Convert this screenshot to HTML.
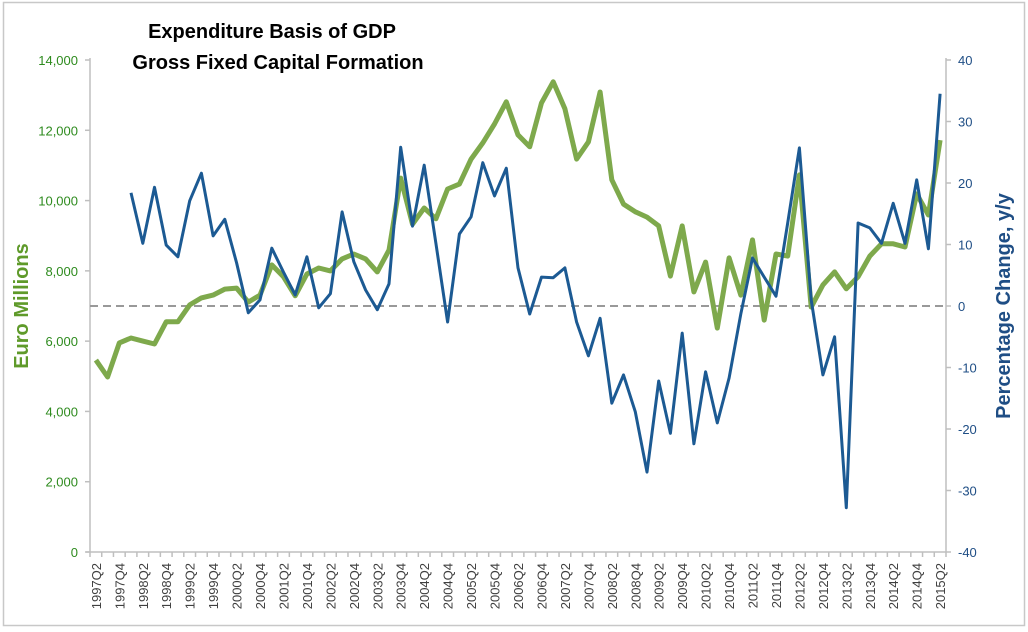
<!DOCTYPE html>
<html><head><meta charset="utf-8"><style>
body{margin:0;background:#fff;}
svg{display:block;font-family:"Liberation Sans",sans-serif;}
</style></head><body>
<svg id="chart" width="1028" height="632" xmlns="http://www.w3.org/2000/svg">
<rect x="3.5" y="2.5" width="1021" height="623" fill="#fff" stroke="#c8c8c8" stroke-width="1.5"/>
<text x="272" y="38" text-anchor="middle" font-size="20" font-weight="bold" fill="#000">Expenditure Basis of GDP</text>
<text x="278" y="69" text-anchor="middle" font-size="20" font-weight="bold" fill="#000">Gross Fixed Capital Formation</text>
<text transform="translate(28,306) rotate(-90)" text-anchor="middle" font-size="20" font-weight="bold" fill="#5f9a2a">Euro Millions</text>
<text transform="translate(1010,306) rotate(-90)" text-anchor="middle" font-size="20" font-weight="bold" fill="#1f4e85">Percentage Change, y/y</text>
<g id="axes"></g>
<g id="series"></g>
</svg>
<script>
const categories = [];
for (let y = 1997; y <= 2015; y++) for (let q = 1; q <= 4; q++) { if ((y === 1997 && q < 2) || (y === 2015 && q > 2)) continue; categories.push(y + 'Q' + q); }
const euroMillions = [5460,4980,5950,6090,6000,5920,6550,6550,7030,7230,7310,7480,7510,7110,7310,8170,7830,7290,7910,8080,8000,8340,8480,8340,7970,8590,10640,9330,9790,9480,10330,10470,11180,11640,12180,12810,11870,11530,12780,13380,12610,11180,11670,13090,10590,9900,9680,9530,9280,7850,9280,7400,8250,6370,8370,7310,8880,6600,8480,8420,10730,6970,7600,7970,7490,7830,8420,8770,8770,8680,10190,9590,11720];
const pctChange = [null,null,null,18.4,10.2,19.3,9.9,8.0,17.1,21.6,11.4,14.1,7.0,-1.1,1.0,9.4,5.5,1.8,8.0,-0.3,2.0,15.3,7.2,2.6,-0.6,3.6,25.8,13.0,22.9,10.2,-2.6,11.7,14.5,23.3,17.9,22.4,6.2,-1.3,4.7,4.6,6.2,-2.6,-8.1,-2.0,-15.8,-11.2,-17.2,-27.0,-12.2,-20.7,-4.4,-22.4,-10.7,-19.0,-11.7,-1.3,7.8,4.7,1.6,13.5,25.7,1.0,-11.2,-5.0,-32.8,13.5,12.7,10.2,16.7,10.2,20.5,9.3,34.5];
const leftTicks = [0,2000,4000,6000,8000,10000,12000,14000];
const rightTicks = [-40,-30,-20,-10,0,10,20,30,40];

const NS = 'http://www.w3.org/2000/svg';
const X0 = 90, X1 = 946, Y0 = 552, Y1 = 60;
const step = (X1 - X0) / categories.length;
const xPos = i => X0 + step * (i + 0.5);
const yLeft = v => Y0 - (v - 0) / 14000 * (Y0 - Y1);
const yRight = v => Y0 - (v + 40) / 80 * (Y0 - Y1);
function mk(tag, attrs, parent) { const e = document.createElementNS(NS, tag); for (const k in attrs) e.setAttribute(k, attrs[k]); parent.appendChild(e); return e; }
const axes = document.getElementById('axes');
const series = document.getElementById('series');

let el = mk('line', {x1: X0, y1: Y1 - 2, x2: X0, y2: Y0, stroke: '#bfbfbf', 'stroke-width': 1.5}, axes);


el = mk('line', {x1: X1, y1: Y1 - 2, x2: X1, y2: Y0, stroke: '#bfbfbf', 'stroke-width': 1.5}, axes);


el = mk('line', {x1: X0 - 4, y1: Y0, x2: X1, y2: Y0, stroke: '#bfbfbf', 'stroke-width': 1.5}, axes);



leftTicks.forEach(v => {
  const y = yLeft(v);
  const t = mk('line', {x1: X0 - 5, y1: y, x2: X0, y2: y, stroke: '#bfbfbf', 'stroke-width': 1.5}, axes);
  
  
  const l = mk('text', {x: X0 - 12, y: y + 5, 'text-anchor': 'end', 'font-size': 13, fill: '#2e8b1e'}, axes);
  l.textContent = v.toLocaleString('en-US');
  
  
});
rightTicks.forEach(v => {
  const y = yRight(v);
  const t = mk('line', {x1: X1, y1: y, x2: X1 + 5, y2: y, stroke: '#bfbfbf', 'stroke-width': 1.5}, axes);
  
  
  const l = mk('text', {x: X1 + 12, y: y + 5, 'text-anchor': 'start', 'font-size': 13, fill: '#1f4e85'}, axes);
  l.textContent = v;
  
  
});
for (let i = 0; i <= categories.length; i++) {
  const x = X0 + step * i;
  const t = mk('line', {x1: x, y1: Y0, x2: x, y2: Y0 + 5, stroke: '#bfbfbf', 'stroke-width': 1.5}, axes);
  
  
}
categories.forEach((c, i) => {
  if (i % 2 !== 0) return;
  const x = xPos(i);
  const l = mk('text', {transform: `translate(${x + 5},${Y0 + 11}) rotate(-90)`, 'text-anchor': 'end', 'font-size': 13, fill: '#404040'}, axes);
  l.textContent = c;
  
  
});

el = mk('line', {x1: X0, y1: yRight(0), x2: X1, y2: yRight(0), stroke: '#999', 'stroke-width': 2, 'stroke-dasharray': '8,5'}, series);



const gPts = euroMillions.map((v, i) => xPos(i).toFixed(1) + ',' + yLeft(v).toFixed(1)).join(' ');
el = mk('polyline', {points: gPts, fill: 'none', stroke: '#7ea94c', 'stroke-width': 5, 'stroke-linejoin': 'round'}, series);



const bPts = pctChange.map((v, i) => v === null ? null : xPos(i).toFixed(1) + ',' + yRight(v).toFixed(1)).filter(p => p).join(' ');
el = mk('polyline', {points: bPts, fill: 'none', stroke: '#1c5a93', 'stroke-width': 3, 'stroke-linejoin': 'round'}, series);


</script>
</body></html>
